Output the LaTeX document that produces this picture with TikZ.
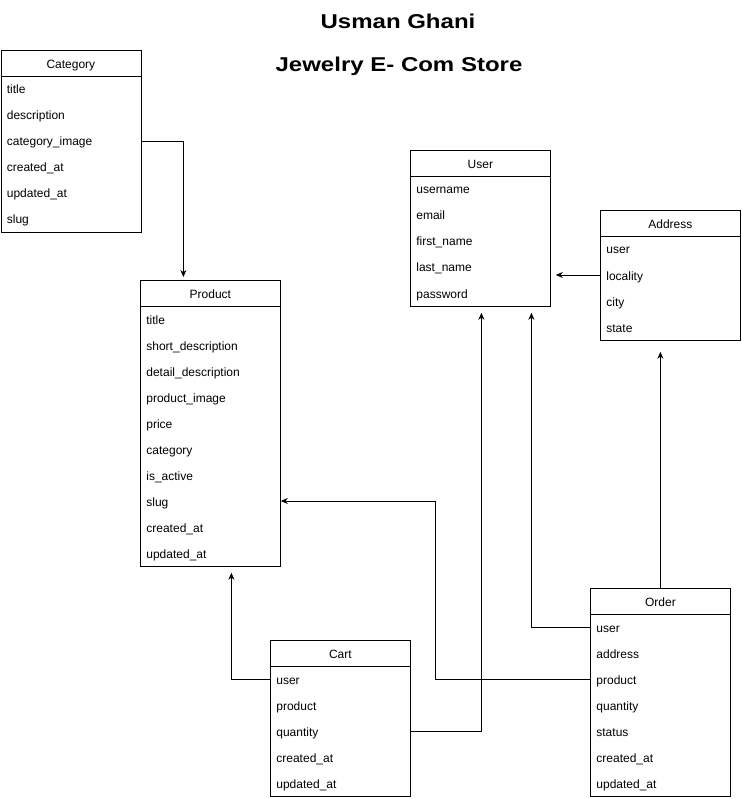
\documentclass[tikz,border=0pt]{standalone}
\usepackage{fontspec}
\setmainfont{Liberation Sans}
\newfontfamily\titlefont[FakeStretch=1.2]{Liberation Sans}
\usetikzlibrary{positioning, arrows.meta}
\tikzset{
head/.style={draw, rectangle, anchor=north west, minimum width=140pt, minimum height=26pt, inner sep=0pt, text height=11pt, text depth=0pt, font=\fontsize{12}{14}\selectfont},
body/.style={draw, rectangle, anchor=north west, minimum width=140pt, inner sep=0pt},
field/.style={anchor=west, inner sep=0pt, text height=10pt, text depth=0pt, font=\fontsize{12}{14}\selectfont},
title/.style={anchor=base, inner sep=0pt, font=\titlefont\fontsize{20}{24}\selectfont\bfseries},
link/.style={-{Stealth[length=7pt, width=6pt]}, line width=0.8pt},
}

\begin{document}
\begin{tikzpicture}[x=1pt, y=-1pt, line width=0.8pt]
    \useasboundingbox (0,0) rectangle (741,799);

    % titles
    \node[title] (name)  at (398,29) {Usman Ghani};
    \node[title] (store) at (399,72) {Jewelry E- Com Store};

    % Category
    \node[head] (category) at (0.5,50) {Category};
    \node[body, minimum height=156pt] (categorybox) at (0.5,76) {};
    \node[field] (cattitle)   at (6.5,89)  {title};
    \node[field] (catdesc)    at (6.5,115) {description};
    \node[field] (catimage)   at (6.5,141) {category\_image};
    \node[field] (catcreated) at (6.5,167) {created\_at};
    \node[field] (catupdated) at (6.5,193) {updated\_at};
    \node[field] (catslug)    at (6.5,219) {slug};

    % Product
    \node[head] (product) at (140,280) {Product};
    \node[body, minimum height=260pt] (productbox) at (140,306) {};
    \node[field] (ptitle)    at (146,319) {title};
    \node[field] (pshort)    at (146,345) {short\_description};
    \node[field] (pdetail)   at (146,371) {detail\_description};
    \node[field] (pimage)    at (146,397) {product\_image};
    \node[field] (pprice)    at (146,423) {price};
    \node[field] (pcategory) at (146,449) {category};
    \node[field] (pactive)   at (146,475) {is\_active};
    \node[field] (pslug)     at (146,501) {slug};
    \node[field] (pcreated)  at (146,527) {created\_at};
    \node[field] (pupdated)  at (146,553) {updated\_at};

    % User
    \node[head] (user) at (410,150) {User};
    \node[body, minimum height=130pt] (userbox) at (410,176) {};
    \node[field] (uname)     at (416,189) {username};
    \node[field] (uemail)    at (416,215) {email};
    \node[field] (ufirst)    at (416,241) {first\_name};
    \node[field] (ulast)     at (416,267) {last\_name};
    \node[field] (upassword) at (416,293) {password};

    % Address
    \node[head] (address) at (600,210) {Address};
    \node[body, minimum height=104pt] (addressbox) at (600,236) {};
    \node[field] (auser)     at (606,249) {user};
    \node[field] (alocality) at (606,275) {locality};
    \node[field] (acity)     at (606,301) {city};
    \node[field] (astate)    at (606,327) {state};

    % Cart
    \node[head] (cart) at (270,640) {Cart};
    \node[body, minimum height=130pt] (cartbox) at (270,666) {};
    \node[field] (cuser)     at (276,679) {user};
    \node[field] (cproduct)  at (276,705) {product};
    \node[field] (cquantity) at (276,731) {quantity};
    \node[field] (ccreated)  at (276,757) {created\_at};
    \node[field] (cupdated)  at (276,783) {updated\_at};

    % Order
    \node[head] (order) at (590,588) {Order};
    \node[body, minimum height=182pt] (orderbox) at (590,614) {};
    \node[field] (ouser)     at (596,627) {user};
    \node[field] (oaddress)  at (596,653) {address};
    \node[field] (oproduct)  at (596,679) {product};
    \node[field] (oquantity) at (596,705) {quantity};
    \node[field] (ostatus)   at (596,731) {status};
    \node[field] (ocreated)  at (596,757) {created\_at};
    \node[field] (oupdated)  at (596,783) {updated\_at};

    % links
    \draw[link, shorten >=3pt] (catimage -| categorybox.east) -| ([xshift=-27pt]product.north);
    \draw[link, shorten >=6pt] (cuser -| cartbox.west) -| ([xshift=21pt]productbox.south);
    \draw[link, shorten >=6pt] (cquantity -| cartbox.east) -| ([xshift=1pt]userbox.south);
    \draw[link, shorten >=6pt] (ouser -| orderbox.west) -| ([xshift=51pt]userbox.south);
    \draw[link] (oproduct -| orderbox.west) -- ++(-155,0) |- (pslug -| productbox.east);
    \draw[link, shorten >=11pt] (order.north) -- (order.north |- addressbox.south);
    \draw[link, shorten >=5pt] (alocality -| addressbox.west) -- (alocality -| userbox.east);

\end{tikzpicture}
\end{document}
